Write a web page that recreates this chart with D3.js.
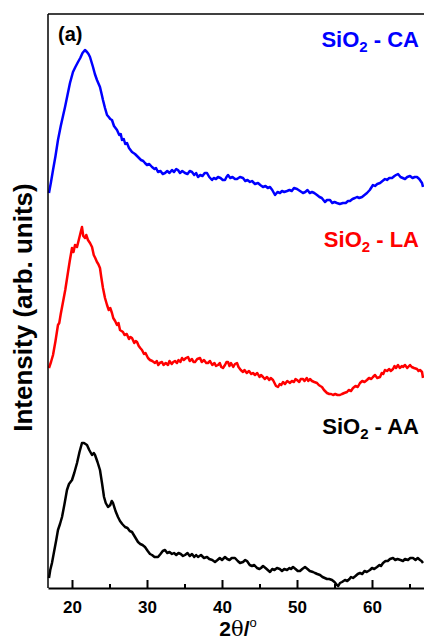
<!DOCTYPE html>
<html>
<head>
<meta charset="utf-8">
<script src="https://cdn.jsdelivr.net/npm/d3@7"></script>
<style>
  html, body { margin: 0; padding: 0; background: #fff; }
  svg { display: block; }
  text { font-family: "Liberation Sans", Arial, sans-serif; }
</style>
</head>
<body>
<script>
// XRD patterns of the three silica samples, [2θ (deg), intensity (a.u.)]
const sampleNames = ["SiO2 - CA", "SiO2 - LA", "SiO2 - AA"];
const sampleColors = ["#0000ff", "#ff0000", "#000000"];
const sampleOffsets = [380, 190, 0];

const xrdCA = [
  [16.93,15],[17.2,26],[17.47,38],[17.8,52],[18.13,68],[18.5,82],[18.8,92],[19.07,101],[19.4,113],
  [19.73,125],[20.13,136],[20.45,141],[20.8,146],[21.1,150],[21.4,155],[21.73,158],[22.0,156],
  [22.2,154],[22.4,151],[22.6,146],[22.8,141],[23.05,134],[23.33,128],[23.5,125],[23.73,121],
  [23.95,114],[24.13,108],[24.4,100],[24.67,93],[24.9,91],[25.1,89],[25.33,88],[25.6,82],
  [25.8,80],[26.0,78],[26.3,73],[26.5,74],[26.67,68],[26.9,69],[27.1,64],[27.33,65],[27.6,60],
  [27.8,58],[28.0,56],[28.4,54],[28.8,51],[29.2,48],[29.5,47],[29.73,45],[30.0,43],[30.3,44],
  [30.67,41],[31.0,39],[31.2,40],[31.47,36],[31.8,37],[32.1,34],[32.4,35],[32.7,37],[33.0,35],
  [33.33,38],[33.6,36],[33.9,39],[34.13,38],[34.4,35],[34.7,37],[35.07,35],[35.4,34],[35.7,37],
  [36.0,36],[36.3,33],[36.55,35],[36.8,31],[37.1,33],[37.4,32],[37.7,35],[38.0,35],[38.3,31],
  [38.67,28],[38.9,30],[39.2,29],[39.47,31],[39.8,30],[40.1,28],[40.4,28],[40.6,31],[40.8,33],
  [41.1,30],[41.4,31],[41.73,29],[42.0,29],[42.4,31],[42.8,30],[43.1,27],[43.4,28],[43.73,26],
  [44.0,27],[44.4,24],[44.8,25],[45.1,23],[45.47,21],[45.8,22],[46.1,20],[46.4,21],[46.7,18],
  [47.07,13],[47.4,16],[47.73,15],[48.0,17],[48.3,16],[48.67,17],[49.0,18],[49.3,17],[49.6,20],
  [50.0,19],[50.4,17],[50.8,15],[51.1,16],[51.4,18],[51.7,15],[52.0,16],[52.3,15],[52.67,13],
  [53.0,11],[53.3,10],[53.73,6],[54.0,8],[54.4,8],[54.7,5],[55.0,6],[55.33,5],[55.7,4],
  [56.13,5],[56.5,5],[56.8,7],[57.07,7],[57.4,9],[57.73,10],[58.0,11],[58.3,10],[58.67,11],
  [59.0,13],[59.33,15],[59.7,18],[60.13,23],[60.4,22],[60.7,24],[61.07,25],[61.4,27],[61.73,29],
  [62.0,28],[62.3,30],[62.67,30],[63.0,32],[63.2,33],[63.47,34],[63.8,31],[64.1,30],[64.4,29],
  [64.7,31],[65.07,32],[65.4,30],[65.7,31],[66.0,31],[66.3,29],[66.67,25],[66.8,21]
];

const xrdLA = [
  [16.93,30],[17.2,36],[17.47,43],[17.8,57],[18.13,73],[18.3,75],[18.5,84],[18.8,96],[19.1,108],
  [19.47,126],[19.7,137],[20.0,150],[20.2,146],[20.4,153],[20.67,151],[20.9,158],[21.1,164],
  [21.33,171],[21.5,162],[21.73,160],[21.9,163],[22.13,158],[22.4,155],[22.67,151],[22.9,143],
  [23.1,140],[23.33,136],[23.5,134],[23.73,130],[23.9,121],[24.13,110],[24.4,100],[24.67,93],
  [24.9,88],[25.1,90],[25.33,85],[25.5,80],[25.75,77],[26.0,73],[26.2,75],[26.4,68],[26.6,67],
  [26.8,66],[27.0,63],[27.3,64],[27.6,59],[27.8,61],[28.0,60],[28.3,55],[28.5,57],[28.67,56],
  [28.9,52],[29.1,50],[29.33,48],[29.6,44],[29.8,45],[30.13,40],[30.4,38],[30.7,37],[31.07,35],
  [31.3,37],[31.5,33],[31.7,35],[32.0,36],[32.2,33],[32.5,35],[32.8,33],[33.0,37],[33.3,34],
  [33.5,36],[33.73,37],[34.0,35],[34.2,38],[34.45,36],[34.67,40],[34.9,38],[35.2,40],[35.47,41],
  [35.7,37],[36.0,39],[36.2,36],[36.4,36],[36.7,39],[37.07,40],[37.3,36],[37.6,38],[37.9,35],
  [38.13,35],[38.4,37],[38.7,33],[39.0,35],[39.2,32],[39.47,33],[39.7,35],[39.9,31],[40.13,30],
  [40.4,33],[40.6,36],[40.8,36],[41.0,32],[41.2,35],[41.5,31],[41.73,34],[42.0,35],[42.2,31],
  [42.5,28],[42.8,26],[43.0,28],[43.3,25],[43.6,27],[43.9,24],[44.13,25],[44.4,23],[44.7,25],
  [45.0,21],[45.2,23],[45.47,21],[45.7,19],[46.0,21],[46.3,18],[46.5,20],[46.8,18],[47.0,15],
  [47.2,12],[47.47,11],[47.7,14],[47.9,13],[48.13,16],[48.4,14],[48.7,17],[49.07,15],[49.3,17],
  [49.6,16],[49.8,19],[50.0,18],[50.3,16],[50.5,19],[50.8,19],[51.0,17],[51.3,20],[51.5,17],
  [51.73,19],[52.0,17],[52.3,16],[52.67,15],[52.9,13],[53.1,12],[53.33,11],[53.6,8],[54.0,5],
  [54.3,4],[54.55,4],[54.8,3],[55.1,4],[55.4,3],[55.73,3],[56.0,4],[56.3,5],[56.67,6],[56.9,8],
  [57.2,7],[57.47,10],[57.8,12],[58.1,11],[58.4,15],[58.7,17],[59.0,16],[59.33,18],[59.6,20],
  [59.9,19],[60.13,21],[60.4,23],[60.7,20],[61.07,21],[61.3,25],[61.5,24],[61.73,28],[62.0,27],
  [62.3,29],[62.5,27],[62.8,29],[63.0,32],[63.2,30],[63.47,33],[63.7,30],[64.0,32],[64.13,31],
  [64.4,33],[64.7,30],[65.07,33],[65.3,31],[65.6,30],[66.0,29],[66.2,27],[66.4,28],[66.67,26],
  [66.8,20]
];

const xrdAA = [
  [16.93,10],[17.1,18],[17.33,25],[17.6,36],[17.9,48],[18.13,58],[18.4,64],[18.67,71],[19.0,84],
  [19.33,98],[19.6,104],[20.0,108],[20.3,115],[20.67,125],[21.0,136],[21.33,145],[21.6,145],
  [22.0,143],[22.3,138],[22.67,133],[22.9,135],[23.07,133],[23.4,126],[23.73,118],[24.0,105],
  [24.27,91],[24.5,85],[24.8,81],[25.1,83],[25.3,87],[25.47,85],[25.8,77],[26.13,71],[26.4,67],
  [26.7,64],[27.07,61],[27.4,60],[27.7,57],[28.0,56],[28.4,51],[28.8,46],[29.1,44],[29.4,43],
  [29.73,41],[30.1,37],[30.4,34],[30.67,33],[31.0,31],[31.2,31],[31.47,31],[31.8,34],[32.1,37],
  [32.4,38],[32.7,35],[33.0,36],[33.33,34],[33.6,35],[33.9,33],[34.2,35],[34.5,34],[34.8,32],
  [35.07,33],[35.4,35],[35.7,32],[36.0,34],[36.3,31],[36.55,33],[36.8,31],[37.2,33],[37.6,30],
  [38.0,31],[38.3,29],[38.7,28],[39.07,26],[39.4,28],[39.7,30],[40.0,28],[40.4,31],[40.7,29],
  [41.0,28],[41.3,30],[41.73,30],[42.1,27],[42.4,25],[42.8,26],[43.1,28],[43.33,27],[43.7,23],
  [44.0,22],[44.3,23],[44.67,20],[45.0,19],[45.2,20],[45.47,22],[45.8,20],[46.1,18],[46.4,16],
  [46.7,19],[47.0,18],[47.33,20],[47.7,19],[48.0,17],[48.3,19],[48.67,18],[49.0,20],[49.2,19],
  [49.47,21],[49.8,19],[50.1,17],[50.4,17],[50.7,19],[51.07,21],[51.4,19],[51.7,17],[52.13,16],
  [52.4,15],[52.7,14],[53.07,13],[53.4,11],[53.7,10],[54.0,9],[54.3,9],[54.67,8],[55.0,6],
  [55.33,3],[55.5,2],[55.73,5],[56.0,6],[56.4,8],[56.7,7],[57.0,9],[57.2,11],[57.47,10],
  [57.8,12],[58.1,14],[58.4,15],[58.7,14],[59.0,17],[59.3,16],[59.73,18],[60.0,20],[60.3,19],
  [60.67,21],[61.0,23],[61.2,22],[61.47,25],[61.8,27],[62.1,27],[62.4,29],[62.8,30],[63.1,28],
  [63.4,29],[63.8,28],[64.13,27],[64.4,29],[64.8,28],[65.1,30],[65.47,30],[65.8,28],[66.1,30],
  [66.4,28],[66.6,27],[66.8,25]
];

const seriesData = [xrdCA, xrdLA, xrdAA];
const majorTicks = [20, 30, 40, 50, 60];
const minorTicks = [25, 35, 45, 55, 65];
const xDomain = [16.8, 67.2];
const yDomain = [0, 574];

const W = 424, H = 643;
const plot = { left: 48, right: 426, top: 14, bottom: 588 };

const svg = d3.select("body").append("svg")
  .attr("width", W).attr("height", H);

const x = d3.scaleLinear().domain(xDomain).range([plot.left, plot.right]);
const y = d3.scaleLinear().domain(yDomain).range([plot.bottom, plot.top]);

// curves, stacked with a vertical offset
const line = d3.line()
  .x(d => x(d[0]))
  .y(d => y(d[1]));

seriesData.forEach((s, i) => {
  const off = sampleOffsets[i];
  svg.append("path")
    .datum(s.map(d => [d[0], d[1] + off]))
    .attr("fill", "none")
    .attr("stroke", sampleColors[i])
    .attr("stroke-width", 2.5)
    .attr("stroke-linejoin", "round")
    .attr("d", line);
});

// frame: top and left lines
svg.append("line")
  .attr("x1", plot.left).attr("x2", plot.right)
  .attr("y1", plot.top).attr("y2", plot.top)
  .attr("stroke", "#000").attr("stroke-width", 1.5);
svg.append("line")
  .attr("x1", plot.left).attr("x2", plot.left)
  .attr("y1", plot.top).attr("y2", plot.bottom)
  .attr("stroke", "#000").attr("stroke-width", 1.5);

// bottom axis with inward ticks
const xAxis = d3.axisBottom(x)
  .tickValues(majorTicks)
  .tickSizeInner(-8)
  .tickSizeOuter(0)
  .tickPadding(13)
  .tickFormat(d3.format("d"));

const gx = svg.append("g")
  .attr("transform", `translate(0,${plot.bottom})`)
  .call(xAxis);
gx.select(".domain").attr("stroke-width", 2.2);
gx.selectAll(".tick line").attr("stroke-width", 2);
gx.selectAll(".tick text")
  .attr("font-size", 17)
  .attr("font-weight", "bold")
  .attr("fill", "#000")
  .attr("font-family", "Liberation Sans, Arial, sans-serif");

const gMinor = svg.append("g")
  .attr("transform", `translate(0,${plot.bottom})`)
  .call(d3.axisBottom(x).tickValues(minorTicks).tickSizeInner(-4).tickSizeOuter(0).tickFormat(""));
gMinor.select(".domain").remove();
gMinor.selectAll(".tick line").attr("stroke-width", 2);

// axis titles
const xt = svg.append("text")
  .attr("x", 238).attr("y", 636)
  .attr("text-anchor", "middle")
  .attr("font-size", 21)
  .attr("font-weight", "bold");
xt.append("tspan").text("2");
xt.append("tspan").attr("font-family", "DejaVu Serif, serif").attr("font-weight", "normal").text("θ");
xt.append("tspan").text("/");
xt.append("tspan").attr("font-size", 13).attr("dy", -9).attr("font-weight", "normal").text("o");

svg.append("text")
  .attr("transform", `translate(32,${(172 + 443) / 2}) rotate(-90)`)
  .attr("text-anchor", "middle")
  .attr("font-size", 26)
  .attr("font-weight", "bold")
  .text("Intensity (arb. units)");

// panel tag
svg.append("text")
  .attr("x", 58).attr("y", 41)
  .attr("font-size", 20)
  .attr("font-weight", "bold")
  .text("(a)");

// sample labels
const labelY = [47, 247, 434];
sampleNames.forEach((name, i) => {
  const t = svg.append("text")
    .attr("x", 419).attr("y", labelY[i])
    .attr("text-anchor", "end")
    .attr("font-size", 22)
    .attr("font-weight", "bold")
    .attr("fill", sampleColors[i]);
  const parts = name.split("2");
  t.append("tspan").text(parts[0]);
  t.append("tspan").attr("font-size", 15).attr("dy", 5).text("2");
  t.append("tspan").attr("dy", -5).text(parts[1]);
});
</script>
</body>
</html>
